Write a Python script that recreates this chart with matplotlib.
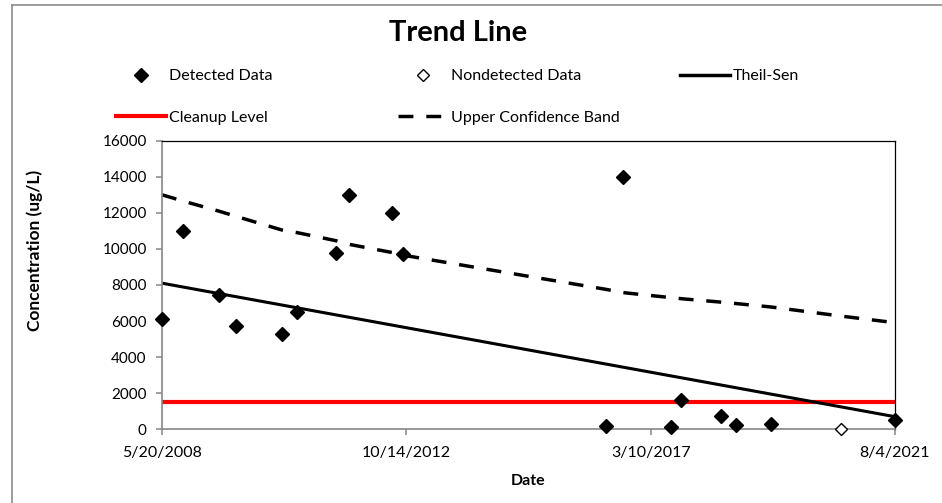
import matplotlib.pyplot as plt
from matplotlib.lines import Line2D
import pandas as pd

plt.rcParams['font.family'] = ['Lato', 'DejaVu Sans']

# sample dates and concentrations (ug/L)
det_dates = ["2008-05-20", "2008-10-07", "2009-05-27", "2009-09-21", "2010-07-18",
             "2010-10-28", "2011-07-12", "2011-10-06", "2012-07-13", "2012-09-25",
             "2016-05-19", "2016-09-08", "2017-07-21", "2017-09-29", "2018-06-18",
             "2018-09-25", "2019-05-13", "2021-08-04"]
det_conc = [6100, 11000, 7450, 5700, 5300, 6500, 9800, 13000, 12000, 9700,
            200, 14000, 150, 1600, 750, 250, 300, 500]

nd_dates = ["2020-08-11"]
nd_conc = [0]

# Theil-Sen trend end points
ts_dates = ["2008-05-20", "2021-08-04"]
ts_conc = [8100, 700]

# upper confidence band at each sample date
ucb_dates = ["2008-05-20", "2008-10-07", "2009-05-27", "2009-09-21", "2010-07-18",
             "2010-10-28", "2011-07-12", "2011-10-06", "2012-07-13", "2012-09-25",
             "2016-05-19", "2016-09-08", "2017-07-21", "2017-09-29", "2018-06-18",
             "2018-09-25", "2019-05-13", "2020-08-11", "2021-08-04"]
ucb_conc = [13000, 12650, 12100, 11800, 11050, 10900, 10450, 10250, 9800, 9650,
            7760, 7580, 7300, 7240, 7050, 6970, 6780, 6280, 5910]

cleanup_level = 1500

tick_dates = ["5/20/2008", "10/14/2012", "3/10/2017", "8/4/2021"]

det_x = pd.to_datetime(det_dates)
nd_x = pd.to_datetime(nd_dates)
ts_x = pd.to_datetime(ts_dates)
ucb_x = pd.to_datetime(ucb_dates)
tick_x = pd.to_datetime(tick_dates, format="%m/%d/%Y")

fig = plt.figure(figsize=(9.42, 5.03), dpi=100)
ax = fig.add_axes([0.172, 0.1465, 0.778, 0.5738])

# chart frame (top and left edges)
fig.add_artist(Line2D([12 / 942, 1], [1 - 5 / 503, 1 - 5 / 503], transform=fig.transFigure,
                      color="#8c8c8c", lw=1.2))
fig.add_artist(Line2D([12 / 942, 12 / 942], [0, 1 - 5 / 503], transform=fig.transFigure,
                      color="#8c8c8c", lw=1.2))

ax.axhline(cleanup_level, color="#ff0000", lw=3, zorder=2)
ax.plot(ucb_x, ucb_conc, color="black", lw=2.5, linestyle=(0, (4.3, 3.7)), zorder=2)
ax.plot(ts_x, ts_conc, color="black", lw=2.2, zorder=2)
ax.plot(det_x, det_conc, linestyle="none", marker="D", ms=7, color="black", zorder=4,
        clip_on=False)
ax.plot(nd_x, nd_conc, linestyle="none", marker="D", ms=6, mfc="white", mec="black",
        mew=1, zorder=4, clip_on=False)

ax.set_xlim(tick_x[0], tick_x[-1])
ax.set_ylim(0, 16000)
ax.set_xticks(tick_x)
ax.set_xticklabels(tick_dates)
ax.set_yticks(range(0, 16001, 2000))
ax.tick_params(axis="both", color="#868686", length=4, width=1.1)
ax.tick_params(axis="x", labelsize=11.5, pad=8)
ax.tick_params(axis="y", labelsize=11, pad=7)

for side in ["left", "bottom"]:
    ax.spines[side].set_color("#868686")
    ax.spines[side].set_linewidth(1.2)
for side in ["top", "right"]:
    ax.spines[side].set_color("black")
    ax.spines[side].set_linewidth(0.9)

ax.set_xlabel("Date", fontsize=11.5, fontweight="bold", labelpad=10)
fig.text(35 / 942, 1 - 250 / 503, "Concentration (ug/L)", fontsize=12.5, fontweight="bold",
         rotation=90, ha="center", va="center")

fig.text(0.486, 1 - 33 / 503, "Trend Line", fontsize=21, fontweight="bold",
         ha="center", va="center")

# legend, three columns placed separately
h_det = Line2D([], [], linestyle="none", marker="D", ms=7, color="black")
h_nd = Line2D([], [], linestyle="none", marker="D", ms=6, mfc="white", mec="black", mew=1)
h_ts = Line2D([], [], color="black", lw=2.5)
h_cl = Line2D([], [], color="#ff0000", lw=3)
h_ucb = Line2D([], [], color="black", lw=2.5, linestyle=(0, (4.3, 3.7)))

legend_cols = [
    ([h_det, h_cl], ["Detected Data", "Cleanup Level"], 116),
    ([h_nd, h_ucb], ["Nondetected Data", "Upper Confidence Band"], 398),
    ([h_ts], ["Theil-Sen"], 680),
]
for handles, labels, x0 in legend_cols:
    fig.legend(handles, labels, loc="upper left",
               bbox_to_anchor=(x0 / 942, 1 - 69 / 503),
               frameon=False, fontsize=11.5, borderpad=0, borderaxespad=0,
               handlelength=3.13, handletextpad=0.2, labelspacing=1.72)

fig.savefig("out.png", dpi=100)
